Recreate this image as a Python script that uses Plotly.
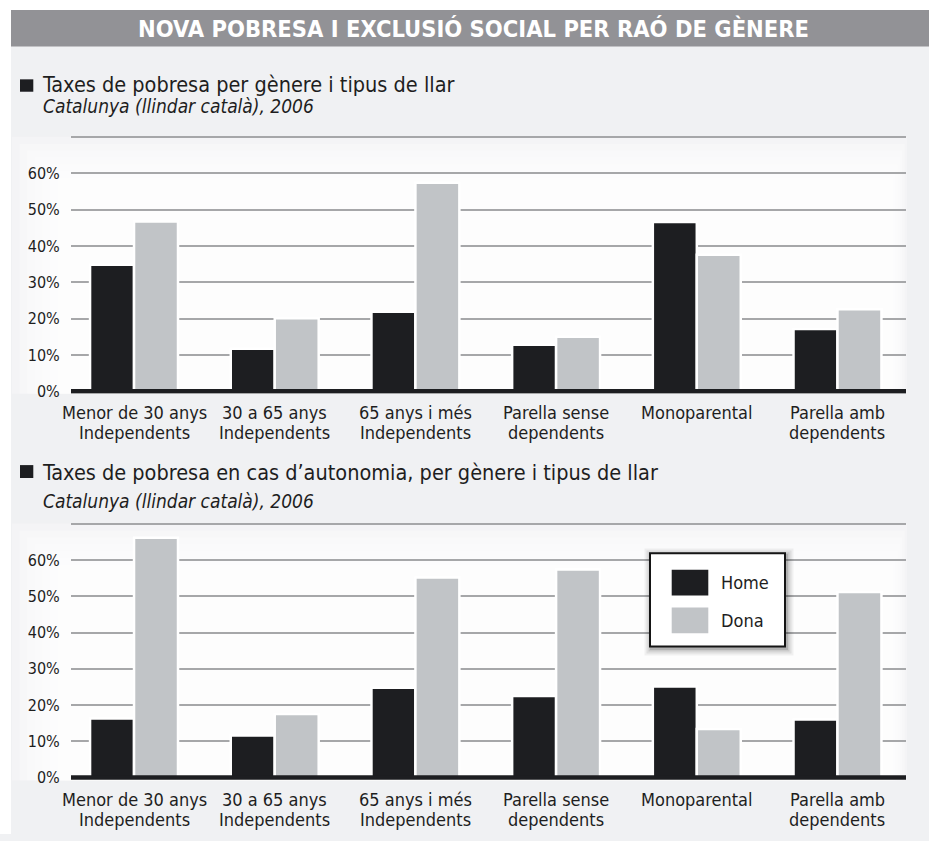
import plotly.graph_objects as go

W, H = 929, 841

# ---------------- data ----------------
categories = ["Menor de 30 anys Independents", "30 a 65 anys Independents",
              "65 anys i més Independents", "Parella sense dependents",
              "Monoparental", "Parella amb dependents"]
label_line1 = ["Menor de 30 anys", "30 a 65 anys", "65 anys i més",
               "Parella sense", "Monoparental", "Parella amb"]
label_line2 = ["Independents", "Independents", "Independents",
               "dependents", "", "dependents"]
series_names = ["Home", "Dona"]

top_home = [34.8, 11.7, 21.9, 12.8, 46.6, 17.1]
top_dona = [46.7, 20.1, 57.4, 15.0, 37.6, 22.6]
bot_home = [16.3, 11.6, 24.8, 22.5, 25.1, 16.0]
bot_dona = [66.2, 17.5, 55.2, 57.4, 13.4, 51.2]

y_tick_vals = [0, 10, 20, 30, 40, 50, 60, 70]
y_tick_text = ["0%", "10%", "20%", "30%", "40%", "50%", "60%", ""]

main_title = "NOVA POBRESA I EXCLUSIÓ SOCIAL PER RAÓ DE GÈNERE"
chart1_title = "Taxes de pobresa per gènere i tipus de llar"
chart2_title = "Taxes de pobresa en cas d\u2019autonomia, per gènere i tipus de llar"
subtitle = "Catalunya (llindar català), 2006"

# ---------------- style ----------------
FONT = "DejaVu Sans Condensed, sans-serif"
HOME_C = "#1d1e21"
DONA_C = "#c1c4c7"
GRID_C = "#a6a7a9"
PAGE_BG = "#f0f1f3"
TXT = "#1e1e1e"


def X(px):
    return px / W


def Y(py):
    return 1 - py / H


fig = go.Figure()

panels = [
    dict(xa="x", ya="y", home=top_home, dona=top_dona),
    dict(xa="x2", ya="y2", home=bot_home, dona=bot_dona),
]
for p in panels:
    fig.add_trace(go.Bar(x=categories, y=p["home"], name=series_names[0],
                         xaxis=p["xa"], yaxis=p["ya"], showlegend=False,
                         marker=dict(color=HOME_C, line=dict(color="white", width=2.5))))
    fig.add_trace(go.Bar(x=categories, y=p["dona"], name=series_names[1],
                         xaxis=p["xa"], yaxis=p["ya"], showlegend=False,
                         marker=dict(color=DONA_C, line=dict(color="white", width=2.5))))

xcommon = dict(range=[-0.448, 5.487], showticklabels=False, showgrid=False,
               zeroline=False, showline=False, fixedrange=True)
ycommon = dict(range=[-0.7, 70.4], tickvals=y_tick_vals, ticktext=y_tick_text,
               showgrid=True, gridcolor=GRID_C, gridwidth=1.8, zeroline=False,
               showline=False, ticks="outside", ticklen=7,
               tickcolor="rgba(0,0,0,0)",
               tickfont=dict(family=FONT, size=16, color=TXT), fixedrange=True)

fig.update_layout(
    width=W, height=H, margin=dict(l=0, r=0, t=0, b=0),
    paper_bgcolor=PAGE_BG, plot_bgcolor="rgba(0,0,0,0)",
    barmode="group", bargap=0.375, bargroupgap=0.0,
    xaxis=dict(domain=[X(71), X(906)], anchor="y", **xcommon),
    yaxis=dict(domain=[Y(397.1), Y(136.6)], anchor="x", **ycommon),
    xaxis2=dict(domain=[X(71), X(906)], anchor="y2", **xcommon),
    yaxis2=dict(domain=[Y(786.6), Y(526.8)], anchor="x2", **ycommon),
)

shapes = []
# white page margins (left and top)
shapes.append(dict(type="rect", xref="paper", yref="paper", x0=0, x1=X(11), y0=0, y1=1,
                   fillcolor="white", line_width=0, layer="below"))
shapes.append(dict(type="rect", xref="paper", yref="paper", x0=0, x1=1, y0=Y(10), y1=1,
                   fillcolor="white", line_width=0, layer="below"))
# title bar
shapes.append(dict(type="rect", xref="paper", yref="paper", x0=X(11), x1=1, y0=Y(47), y1=Y(10),
                   fillcolor="#929296", line_width=0, layer="below"))

# feathered white panels behind the charts
N = 10
for (top, bot) in [(138, 397), (528, 787)]:
    for i in range(N):
        t = i / (N - 1)
        x0 = 12 + (80 - 12) * t
        x1 = 907 - (907 - 886) * t
        y0 = top + (200 - 138) * t
        shapes.append(dict(type="rect", xref="paper", yref="paper",
                           x0=X(x0), x1=X(x1), y0=Y(bot), y1=Y(y0),
                           fillcolor="rgba(255,255,255,0.26)", line_width=0, layer="below"))

# thick baselines
for ya in ["y", "y2"]:
    xd = "x domain" if ya == "y" else "x2 domain"
    shapes.append(dict(type="line", xref=xd, yref=ya, x0=0, x1=1, y0=0, y1=0,
                       line=dict(color=HOME_C, width=4.5), layer="above"))

# heading bullets
for (yt, yb) in [(80, 92.5), (469, 482)]:
    shapes.append(dict(type="rect", xref="paper", yref="paper", x0=X(20), x1=X(33.3),
                       y0=Y(yb), y1=Y(yt), fillcolor=HOME_C, line_width=0))

# custom legend box with soft shadow
for k, op in [(7, 0.05), (5, 0.07), (3, 0.09), (1.5, 0.12)]:
    shapes.append(dict(type="rect", xref="paper", yref="paper",
                       x0=X(650 - k + 1.5), x1=X(785 + k + 1.5),
                       y0=Y(652 + k + 2), y1=Y(558 - k + 2),
                       fillcolor=f"rgba(0,0,0,{op})", line_width=0, layer="above"))
shapes.append(dict(type="rect", xref="paper", yref="paper", x0=X(650), x1=X(785),
                   y0=Y(652), y1=Y(558), fillcolor="white",
                   line=dict(color="#151515", width=2), layer="above"))
legend_colors = [HOME_C, DONA_C]
legend_rows = [(574.5, 600.5), (612.5, 638.5)]
annotations = []
for name, col, (yt, yb) in zip(series_names, legend_colors, legend_rows):
    shapes.append(dict(type="rect", xref="paper", yref="paper", x0=X(671.7), x1=X(708.3),
                       y0=Y(yb), y1=Y(yt), fillcolor=col, line_width=0, layer="above"))
    annotations.append(dict(xref="paper", yref="paper", x=X(719), y=Y((yt + yb) / 2),
                            text=name, showarrow=False, xanchor="left", yanchor="middle",
                            font=dict(family=FONT, size=18, color=TXT)))

# titles
annotations.append(dict(xref="paper", yref="paper", x=X(473), y=Y(29), text=f"<b>{main_title}</b>",
                        showarrow=False, xanchor="center", yanchor="middle",
                        font=dict(family=FONT, size=23.5, color="white")))
for txt, yc in [(chart1_title, 85), (chart2_title, 476)]:
    annotations.append(dict(xref="paper", yref="paper", x=X(40), y=Y(yc), text=txt,
                            showarrow=False, xanchor="left", yanchor="middle",
                            font=dict(family=FONT, size=21.5, color=TXT)))
for yc in [107, 505]:
    annotations.append(dict(xref="paper", yref="paper", x=X(41), y=Y(yc), text=f"<i>{subtitle}</i>",
                            showarrow=False, xanchor="left", yanchor="middle",
                            font=dict(family=FONT, size=19, color=TXT)))

# category labels (two lines each)
for xa, y1, y2 in [("x", 416, 436), ("x2", 806, 826)]:
    for c, l1, l2 in zip(categories, label_line1, label_line2):
        annotations.append(dict(xref=xa, yref="paper", x=c, y=Y(y1), text=l1, showarrow=False,
                                xanchor="center", yanchor="middle",
                                font=dict(family=FONT, size=18, color=TXT)))
        if l2:
            annotations.append(dict(xref=xa, yref="paper", x=c, y=Y(y2), text=l2, showarrow=False,
                                    xanchor="center", yanchor="middle",
                                    font=dict(family=FONT, size=18, color=TXT)))

fig.update_layout(shapes=shapes, annotations=annotations)

fig.write_html("out.html", config={"displayModeBar": False},
               post_script="document.body.style.margin='0';document.body.style.overflow='hidden';")
